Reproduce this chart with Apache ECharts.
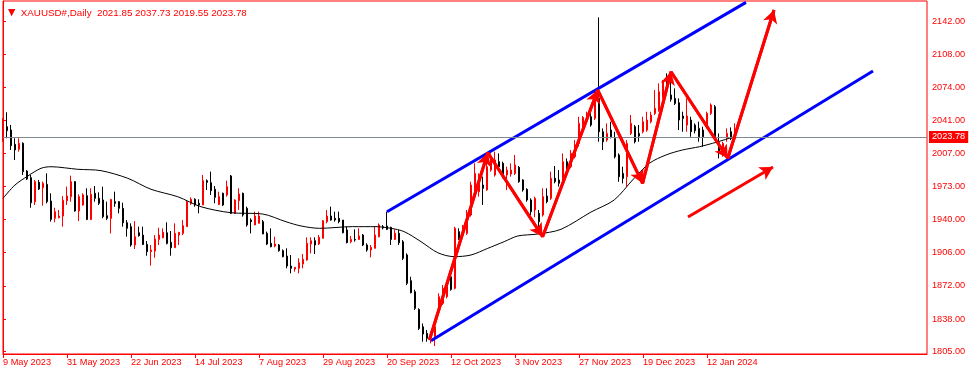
<!DOCTYPE html>
<html><head><meta charset="utf-8">
<script src="https://cdn.jsdelivr.net/npm/echarts@6/dist/echarts.min.js"></script>
<style>html,body{margin:0;padding:0;background:#fff}#c{width:972px;height:374px}</style>
</head><body><div id="c"></div>
<script>
// ---- data ----
const openP = [2020.6,2034.2,2030.8,2016.2,2011.1,2017.3,1989.0,1982.2,1957.8,1977.5,1972.0,1975.4,1958.4,1940.8,1941.4,1943.1,1958.8,1962.9,1978.2,1948.3,1954.4,1963.9,1939.7,1966.3,1961.2,1959.5,1943.5,1940.8,1957.8,1957.8,1951.0,1936.3,1932.3,1913.6,1926.1,1923.7,1914.2,1906.8,1907.4,1919.3,1921.0,1926.1,1916.3,1910.8,1923.7,1925.4,1932.3,1956.1,1960.2,1956.1,1954.4,1979.2,1977.1,1970.4,1955.0,1966.3,1964.6,1984.0,1945.9,1958.8,1966.3,1951.0,1939.1,1934.0,1935.7,1937.4,1925.5,1915.3,1912.5,1913.6,1907.8,1902.3,1892.2,1889.1,1889.8,1894.2,1898.3,1914.6,1918.0,1914.6,1920.4,1937.4,1943.1,1940.8,1940.8,1939.1,1928.9,1917.0,1919.3,1919.3,1923.8,1913.6,1908.5,1910.2,1922.0,1932.2,1932.9,1931.6,1919.3,1925.5,1916.9,1903.4,1877.2,1866.0,1847.9,1830.2,1823.5,1819.5,1820.1,1847.3,1854.1,1860.9,1881.2,1869.4,1927.2,1923.8,1925.5,1944.2,1967.9,1967.9,1974.7,1969.7,1990.0,1985.0,1998.6,1996.9,1985.0,1986.0,1986.6,1992.8,1979.9,1970.3,1959.5,1949.3,1945.9,1944.2,1963.5,1961.2,1981.6,1979.9,1977.0,1998.5,1993.4,2003.6,2017.2,2030.8,2041.0,2044.4,2042.7,2063.1,2029.1,2020.6,2030.8,2022.3,2005.3,1986.6,1983.2,2027.4,2034.2,2027.4,2029.1,2030.8,2039.3,2047.8,2051.2,2064.8,2083.5,2066.5,2063.1,2058.7,2045.1,2035.9,2041.0,2035.9,2032.5,2030.8,2035.9,2047.8,2054.6,2017.9,2007.0,2022.3,2029.1,2021.85];
const highP = [2042.8,2048.9,2036.0,2022.4,2022.4,2018.3,1990.0,1985.0,1979.9,1979.9,1978.2,1986.6,1966.3,1951.6,1949.3,1963.5,1973.1,1984.3,1978.9,1965.2,1966.3,1971.4,1971.4,1973.7,1967.3,1973.1,1957.8,1960.1,1968.0,1958.4,1956.7,1939.0,1935.7,1938.0,1932.3,1932.3,1917.6,1913.6,1923.7,1931.2,1930.5,1936.7,1927.8,1935.7,1926.5,1939.0,1959.5,1962.2,1961.2,1960.2,1985.0,1980.5,1988.4,1973.7,1968.0,1967.0,1979.2,1985.0,1960.2,1971.4,1967.0,1952.7,1940.8,1947.6,1947.6,1939.1,1927.2,1930.6,1922.1,1914.6,1909.1,1910.2,1903.4,1890.8,1900.0,1904.4,1921.4,1921.4,1921.4,1923.8,1939.1,1949.3,1952.7,1947.6,1947.6,1939.1,1932.3,1922.8,1929.6,1930.6,1924.8,1915.3,1913.6,1932.3,1935.6,1934.0,1947.6,1932.2,1929.5,1928.9,1918.6,1905.1,1881.2,1868.0,1849.0,1833.6,1826.9,1825.0,1832.0,1864.3,1872.8,1876.2,1884.6,1932.2,1930.6,1934.0,1949.3,1978.1,1996.9,1986.6,1983.3,2003.7,2007.0,2008.8,2007.0,1998.6,1993.5,1996.9,2005.4,1994.1,1980.5,1971.4,1961.2,1962.9,1949.3,1971.4,1971.4,1988.4,1994.1,1990.0,2007.0,2001.9,2010.4,2020.6,2044.4,2045.1,2049.5,2051.2,2069.9,2145.7,2032.5,2037.6,2039.3,2029.1,2007.0,1993.4,2020.6,2046.1,2035.9,2035.9,2044.4,2049.5,2049.5,2071.6,2078.4,2081.8,2088.6,2080.1,2073.3,2063.1,2049.5,2063.1,2044.4,2037.6,2039.3,2034.2,2049.5,2058.0,2056.3,2027.4,2018.9,2032.5,2033.5,2037.73];
const lowP = [2018.9,2022.4,2010.5,2000.3,2008.8,1985.0,1979.9,1951.6,1954.4,1969.7,1953.7,1956.1,1937.4,1936.7,1940.8,1932.3,1954.4,1957.8,1947.6,1938.0,1953.7,1939.0,1939.0,1957.8,1954.4,1940.8,1939.0,1925.4,1952.6,1945.9,1932.3,1922.1,1911.9,1909.5,1922.1,1913.6,1902.7,1892.5,1900.6,1913.6,1920.4,1914.2,1902.7,1910.8,1913.6,1923.7,1932.3,1954.4,1952.7,1945.9,1954.4,1969.7,1964.6,1956.1,1954.4,1953.4,1962.9,1945.2,1945.2,1949.3,1942.5,1932.3,1925.4,1934.0,1935.7,1924.8,1913.6,1911.2,1911.2,1906.8,1901.0,1889.8,1884.7,1886.4,1884.7,1889.8,1897.6,1905.1,1904.4,1913.6,1920.4,1935.7,1938.4,1937.4,1935.7,1925.5,1915.3,1915.3,1917.0,1918.7,1912.5,1906.8,1901.0,1910.2,1921.4,1929.5,1928.9,1913.6,1918.7,1913.6,1898.2,1872.8,1864.3,1847.3,1826.9,1815.0,1815.0,1813.3,1810.5,1845.6,1852.4,1859.2,1867.0,1868.3,1918.7,1922.7,1923.8,1942.5,1966.3,1962.9,1954.4,1969.0,1988.4,1983.3,1991.8,1981.6,1969.7,1983.3,1985.0,1977.1,1968.0,1957.8,1944.2,1941.8,1932.2,1942.5,1956.1,1959.5,1976.5,1973.1,1979.8,1986.6,1991.7,2001.9,2013.8,2029.1,2039.3,2034.2,2041.0,2018.9,2010.4,2018.9,2022.3,2001.9,1978.1,1976.4,1973.0,2025.7,2017.2,2018.9,2027.4,2029.1,2037.6,2046.1,2049.5,2063.1,2069.9,2059.7,2056.3,2030.8,2029.1,2029.1,2024.0,2027.4,2018.9,2013.8,2032.5,2046.1,2020.6,2001.9,2003.6,2018.9,2020.6,2019.55];
const closeP = [2035.3,2030.2,2014.9,2010.5,2017.3,1988.4,1980.9,1956.7,1978.2,1970.7,1976.4,1957.8,1939.7,1947.6,1943.1,1959.1,1963.5,1978.2,1948.3,1962.9,1964.6,1939.7,1965.2,1961.2,1956.1,1942.5,1940.8,1960.1,1956.1,1951.0,1936.3,1930.6,1913.6,1922.1,1923.1,1914.2,1906.8,1908.4,1919.7,1923.7,1926.5,1915.2,1910.8,1925.4,1926.5,1933.3,1957.8,1960.2,1954.4,1954.4,1979.2,1977.5,1969.0,1962.2,1962.9,1954.4,1973.1,1945.9,1959.5,1965.6,1944.2,1934.0,1937.4,1943.1,1943.1,1924.8,1914.6,1911.9,1914.6,1907.8,1901.7,1892.2,1889.8,1890.8,1895.5,1899.0,1915.3,1918.0,1913.6,1921.4,1938.4,1943.1,1939.1,1939.1,1937.4,1926.1,1916.0,1919.3,1918.7,1922.8,1913.6,1908.5,1911.2,1923.8,1934.0,1930.9,1929.5,1919.3,1925.5,1915.9,1900.0,1874.5,1865.0,1849.0,1828.5,1822.8,1818.4,1821.0,1830.2,1860.9,1869.4,1872.8,1868.3,1930.6,1920.4,1931.6,1945.9,1974.7,1986.6,1981.6,1971.4,1993.5,2002.0,2000.3,1993.5,1983.3,1990.0,1990.0,1995.2,1978.2,1969.7,1959.5,1947.6,1961.2,1937.4,1962.9,1957.8,1981.6,1978.2,1976.5,1998.5,1990.0,2007.0,2015.5,2037.6,2043.7,2046.1,2035.9,2066.5,2029.1,2018.9,2027.4,2024.0,2003.6,1983.2,1981.5,2017.2,2037.6,2018.9,2024.7,2039.3,2041.0,2046.1,2052.9,2069.9,2080.1,2073.3,2062.1,2058.0,2041.0,2042.7,2045.1,2029.1,2030.1,2024.0,2024.0,2047.8,2056.3,2024.0,2007.0,2017.2,2027.4,2022.3,2023.78];
const tickLabels = ['9 May 2023','31 May 2023','22 Jun 2023','14 Jul 2023','7 Aug 2023','29 Aug 2023','20 Sep 2023','12 Oct 2023','3 Nov 2023','27 Nov 2023','19 Dec 2023','12 Jan 2024'];
const priceTicks = [2142,2108,2074,2041,2007,1973,1940,1906,1872,1838,1805];
const maPoints = [[0,1961.2],[3,1974.8],[6.2,1983.9],[9.5,1991.8],[12,1993.4],[18.7,1990.8],[24.5,1989.4],[31.2,1981.6],[37,1970.4],[43.7,1962.8],[49.5,1952.6],[57,1946.5],[64.9,1945.2],[70.75,1937.3],[74.5,1933.0],[79.1,1930.6],[87.4,1932.3],[93.25,1932.3],[97,1930.6],[100.3,1927.2],[104.5,1917.0],[108.7,1905.7],[112.8,1901.7],[117,1903.4],[121.2,1910.2],[125.3,1917.0],[128.7,1922.8],[133.7,1924.8],[139.5,1929.6],[147,1947.2],[152.8,1959.5],[157.4,1979.9],[161.6,1996.9],[165.75,2005.4],[169.9,2010.5],[174.1,2013.8],[177.4,2017.3],[181.6,2022.4],[183.25,2024.7]];
const channelUpper = [[96,1947.5],[185.75,2161]];
const channelLower = [[107,1816.0],[217.5,2091]];
const zigzag = [[106.6,1816.7],[121.2,2007.7],[134.9,1922.1],[148.7,2071.6],[159.9,1976.5],[167,2090.3],[181.2,2002.0],[192.75,2153.2]];
const trendArrow = [[171.25,1942.1],[192.5,1993.1]];
const header = 'XAUUSD#,Daily  2021.85 2037.73 2019.55 2023.78';
const lastClose = 2023.78;
const slotCount = 232;

// ---- build ----
const cats = [];
for (let i = 0; i < slotCount; i++) cats.push(String(i));
const candles = openP.map((o, i) => [o, closeP[i], lowP[i], highP[i]]);
const FONT = 'Liberation Sans';
const RED = '#ff0000';
const showDate = (idx) => idx % 16 === 0 && idx / 16 < tickLabels.length;
const arrowSegs = [];
for (let i = 0; i < zigzag.length - 1; i++) arrowSegs.push([{coord: zigzag[i]}, {coord: zigzag[i + 1]}]);
arrowSegs.push([{coord: trendArrow[0]}, {coord: trendArrow[1]}]);

const chart = echarts.init(document.getElementById('c'), null, {renderer: 'canvas'});
chart.setOption({
  animation: false,
  backgroundColor: '#ffffff',
  title: {
    text: '{t|▼}  ' + header,
    left: 3, top: 3,
    textStyle: {color: RED, fontSize: 9.8, fontFamily: FONT, fontWeight: 'normal',
      rich: {t: {fontSize: 9.5, color: RED, fontFamily: 'DejaVu Sans'}}}
  },
  grid: {left: 2, right: 45, top: 1, bottom: 20, show: true, borderColor: RED, borderWidth: 1, backgroundColor: 'transparent'},
  xAxis: [{
    type: 'category', data: cats, boundaryGap: false,
    axisLine: {show: true, lineStyle: {color: RED, width: 1}},
    axisTick: {show: true, length: 4, lineStyle: {color: RED}, interval: (idx) => showDate(idx)},
    axisLabel: {show: true, interval: (idx) => showDate(idx), formatter: (v, idx) => showDate(idx) ? tickLabels[idx / 16] : '',
      color: RED, fontSize: 9.2, fontFamily: FONT, align: 'left', margin: 4},
    splitLine: {show: false}
  }, {
    type: 'value', min: 0, max: slotCount - 1, show: false
  }],
  yAxis: {
    type: 'value', position: 'right', min: 1802.45, max: 2162.39, scale: true,
    axisLine: {show: true, lineStyle: {color: RED}},
    axisTick: {show: true, length: 3, lineStyle: {color: RED}, customValues: priceTicks},
    axisLabel: {show: true, customValues: priceTicks, formatter: (v) => Number(v).toFixed(2), color: RED, fontSize: 9.2, fontFamily: FONT, margin: 5},
    splitLine: {show: false}
  },
  series: [{
    type: 'candlestick', xAxisIndex: 0, data: candles, barWidth: 2,
    itemStyle: {color: RED, color0: '#000000', borderColor: RED, borderColor0: '#000000', borderWidth: 1},
    markLine: {
      silent: true, symbol: ['none', 'none'], animation: false,
      lineStyle: {color: '#7d8893', width: 1, type: 'solid'},
      label: {show: true, position: 'end', formatter: lastClose.toFixed(2), color: '#ffffff', backgroundColor: RED,
        padding: [2, 3, 1, 3], fontSize: 9.2, fontFamily: FONT, distance: 2},
      emphasis: {disabled: true},
      data: [{yAxis: lastClose}]
    }
  }, {
    type: 'line', xAxisIndex: 1, data: maPoints, smooth: 0.3, showSymbol: false, symbol: 'none',
    lineStyle: {color: '#000000', width: 1}, z: 3
  }, {
    type: 'line', xAxisIndex: 1, data: channelUpper, symbol: 'none', lineStyle: {color: '#0000ff', width: 3}, z: 4
  }, {
    type: 'line', xAxisIndex: 1, data: channelLower, symbol: 'none', lineStyle: {color: '#0000ff', width: 3}, z: 4
  }, {
    type: 'line', xAxisIndex: 1, data: zigzag, symbol: 'none', lineStyle: {color: RED, width: 3}, z: 5,
    markLine: {
      silent: true, symbol: ['none', 'arrow'], symbolSize: [11, 13], animation: false,
      lineStyle: {color: RED, width: 3, type: 'solid'}, label: {show: false},
      emphasis: {disabled: true},
      data: arrowSegs
    }
  }]
});
</script>
</body></html>
